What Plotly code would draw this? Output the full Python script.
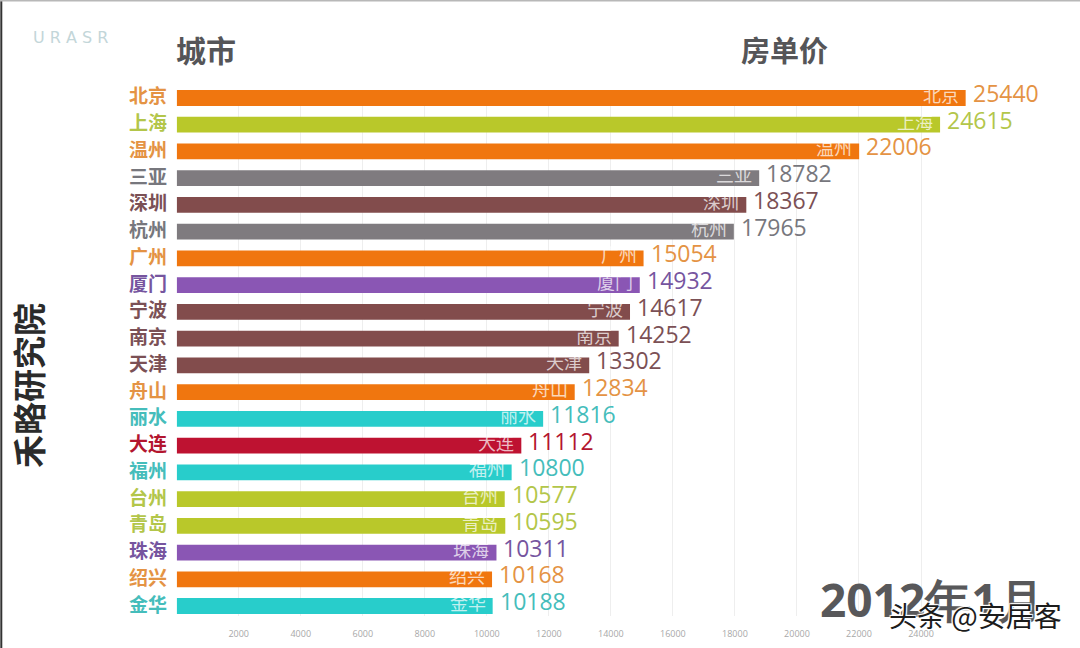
import plotly.graph_objects as go

cities = ["北京","上海","温州","三亚","深圳","杭州","广州","厦门","宁波","南京","天津","舟山","丽水","大连","福州","台州","青岛","珠海","绍兴","金华"]
prices = [25440,24615,22006,18782,18367,17965,15054,14932,14617,14252,13302,12834,11816,11112,10800,10577,10595,10311,10168,10188]
groups = ["o","g","o","k","b","k","o","p","b","b","b","o","t","r","t","g","g","p","o","t"]
tick_values = [2000,4000,6000,8000,10000,12000,14000,16000,18000,20000,22000,24000]

BAR = {"o":"#f0760f","g":"#b9c82a","k":"#7f7b7f","b":"#824c4c","p":"#8a56b4","t":"#28cdcb","r":"#be1231"}
TXT = {"o":"#e49344","g":"#b3c64a","k":"#77777d","b":"#7b5055","p":"#76559f","t":"#45bdbb","r":"#b3152f"}

W, H = 1080, 648
CJK = "Noto Sans CJK SC"
x0_px, right_px = 176.7, 1080
px_per_unit = (921 - 176.7) / 24000
row_first, row_last = 98.0, 606.0
row_h = (row_last - row_first) / (len(cities) - 1)
y_top, y_bot = 90.0, 616.0

fig = go.Figure(go.Bar(
    x=prices, y=cities, orientation="h", width=0.59,
    marker=dict(color=[BAR[g] for g in groups], line=dict(width=0)),
    hoverinfo="skip",
))

ann = []
for c, v, g in zip(cities, prices, groups):
    ann.append(dict(x=0, y=c, xref="x", yref="y", text=c, showarrow=False, xanchor="right", xshift=-8, yshift=3,
                    font=dict(family=CJK, size=19, color=TXT[g], weight="bold")))
    ann.append(dict(x=v, y=c, xref="x", yref="y", text=c, showarrow=False, xanchor="right", xshift=-5, yshift=4,
                    font=dict(family=CJK, size=18, color="rgba(255,255,255,0.72)")))
    ann.append(dict(x=v, y=c, xref="x", yref="y", text=str(v), showarrow=False, xanchor="left", xshift=5, yshift=5,
                    font=dict(family="Open Sans", size=23, color=TXT[g])))

def page(x, y, text, size, color, family=CJK, weight="bold", **kw):
    ann.append(dict(x=x/W, y=1-y/H, xref="paper", yref="paper", text=text, showarrow=False,
                    xanchor="center", yanchor="middle",
                    font=dict(family=family, size=size, color=color, weight=weight, **kw.pop("font", {})), **kw))

page(206, 49, "城市", 30, "#555558")
page(784, 49, "房单价", 29, "#555558")
page(28, 386, "禾略研究院", 33, "#2b2b2b", textangle=-90)
page(932, 599, "2012年1月", 46, "#58585a", family="Open Sans")
page(70, 37, "U R A S R", 16, "#c3d6d9", family="DejaVu Sans", weight="normal")
halo = ",".join(f"{a}px {b}px 1px #fff" for a, b in [(1,1),(-1,-1),(1,-1),(-1,1)])
page(975, 615, "头条 @安居客", 28, "#1c1c1c", weight="normal", font=dict(shadow=halo))

fig.update_layout(
    width=W, height=H, margin=dict(l=0, r=0, t=0, b=0),
    paper_bgcolor="white", plot_bgcolor="white", showlegend=False,
    annotations=ann,
    xaxis=dict(domain=[x0_px/W, 1], range=[0, (right_px-x0_px)/px_per_unit], tickvals=tick_values,
               ticktext=[str(v) for v in tick_values], showgrid=True, gridcolor="#eeeeee", gridwidth=1.2,
               zeroline=False, showline=False, ticks="", ticklen=0, ticklabelstandoff=11,
               tickfont=dict(family="Open Sans", size=9, color="#a8a8a8")),
    yaxis=dict(domain=[1-y_bot/H, 1-y_top/H], categoryorder="array", categoryarray=cities,
               range=[(y_bot-row_first)/row_h, (y_top-row_first)/row_h],
               showticklabels=False, showgrid=False, zeroline=False, showline=False),
    shapes=[
        dict(type="line", xref="paper", yref="paper", x0=0.0012, x1=0.0012, y0=0, y1=1, line=dict(color="#333333", width=2)),
        dict(type="line", xref="paper", yref="paper", x0=0, x1=1, y0=0.999, y1=0.999, line=dict(color="#b8b8b8", width=1.5)),
    ],
)

fig.write_html("out.html", config={"displayModeBar": False}, post_script="document.body.style.margin='0';")
